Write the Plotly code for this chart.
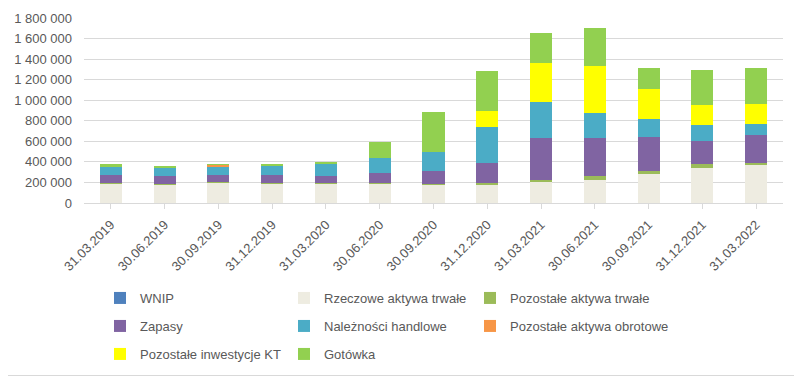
import plotly.graph_objects as go

dates = ["31.03.2019", "30.06.2019", "30.09.2019", "31.12.2019", "31.03.2020", "30.06.2020",
         "30.09.2020", "31.12.2020", "31.03.2021", "30.06.2021", "30.09.2021", "31.12.2021", "31.03.2022"]

wnip =        [1000, 1000, 1000, 1000, 1000, 1000, 1000, 1000, 1000, 1000, 1000, 1000, 1000]
rzeczowe =    [191000, 178000, 198000, 188000, 188000, 188000, 178000, 178000, 208000, 227000, 286000, 344000, 374000]
poz_trwale =  [3000, 10000, 3000, 3000, 3000, 3000, 3000, 13000, 19000, 30000, 29000, 30000, 19000]
zapasy =      [82000, 78000, 75000, 85000, 75000, 103000, 133000, 202000, 400000, 370000, 331000, 224000, 264000]
naleznosci =  [78000, 78000, 81000, 87000, 117000, 146000, 186000, 341000, 352000, 244000, 175000, 156000, 107000]
poz_obrotowe = [2000, 1000, 12000, 1000, 2000, 1000, 0, 0, 0, 0, 0, 0, 0]
poz_inw_kt =  [0, 0, 0, 0, 0, 0, 0, 156000, 380000, 459000, 283000, 195000, 195000]
gotowka =     [18000, 17000, 4000, 18000, 17000, 156000, 389000, 398000, 292000, 369000, 204000, 341000, 350000]

tick_vals = [0, 200000, 400000, 600000, 800000, 1000000, 1200000, 1400000, 1600000, 1800000]
tick_text = ["0", "200 000", "400 000", "600 000", "800 000", "1 000 000", "1 200 000",
             "1 400 000", "1 600 000", "1 800 000"]

series = [
    ("WNIP", wnip, "#4f81bd"),
    ("Rzeczowe aktywa trwałe", rzeczowe, "#eeece1"),
    ("Pozostałe aktywa trwałe", poz_trwale, "#9bbb59"),
    ("Zapasy", zapasy, "#8064a2"),
    ("Należności handlowe", naleznosci, "#4bacc6"),
    ("Pozostałe aktywa obrotowe", poz_obrotowe, "#f79646"),
    ("Pozostałe inwestycje KT", poz_inw_kt, "#ffff00"),
    ("Gotówka", gotowka, "#92d050"),
]

# page body has an 8px margin: figure is placed at (8, 8)
OFF = 8
W, H = 802 - OFF, 378 - OFF
L, R, T, B = 84 - OFF, 19, 18 - OFF, 175
ph = H - T - B
pw = W - L - R

col_x = [100, 284, 470]   # absolute page px of legend entry start
row_y = [298, 326, 354]   # absolute page px of legend row centre

fig = go.Figure()
legends = {}
for i, (name, vals, col) in enumerate(series):
    key = "legend" if i == 0 else f"legend{i + 1}"
    fig.add_trace(go.Bar(x=dates, y=vals, name=name, legend=key,
                         marker=dict(color=col, line=dict(width=0))))
    cx = col_x[i % 3] - OFF
    ry = row_y[i // 3] - OFF
    legends[key] = dict(orientation="h", x=(cx - L) / pw, xanchor="left",
                        y=(H - B - ry) / ph, yanchor="middle",
                        font=dict(size=13, color="#595959"), itemwidth=30,
                        bgcolor="rgba(0,0,0,0)")

font_fam = "Liberation Sans, Arial, sans-serif"
fig.update_layout(
    barmode="stack",
    bargap=0.59,
    width=W, height=H,
    margin=dict(l=L, r=R, t=T, b=B, autoexpand=False),
    paper_bgcolor="white", plot_bgcolor="white",
    font=dict(family=font_fam, size=13, color="#595959"),
    xaxis=dict(tickangle=-45, showline=True, linecolor="#d9d9d9", ticks="outside",
               tickcolor="#d9d9d9", ticklen=5, tickfont=dict(size=13, color="#595959"),
               showgrid=False, automargin=False, ticklabelstandoff=3),
    yaxis=dict(range=[0, 1800000], tickvals=tick_vals, ticktext=tick_text,
               gridcolor="#d9d9d9", gridwidth=1, zeroline=False, automargin=False,
               tickfont=dict(size=13, color="#595959"), ticks="", ticklen=0,
               ticklabelstandoff=11),
    showlegend=True,
    **legends,
)
# chart-area border (right and bottom edges visible in the window)
fig.add_shape(type="line", xref="paper", yref="paper",
              x0=1 + (R - 3) / pw, x1=1 + (R - 3) / pw,
              y0=-(B - 2.5) / ph, y1=1 + T / ph, line=dict(color="#d9d9d9", width=1))
fig.add_shape(type="line", xref="paper", yref="paper",
              x0=-L / pw, x1=1 + (R - 3) / pw,
              y0=-(B - 2.5) / ph, y1=-(B - 2.5) / ph, line=dict(color="#d9d9d9", width=1))

fig.write_html("out.html")
